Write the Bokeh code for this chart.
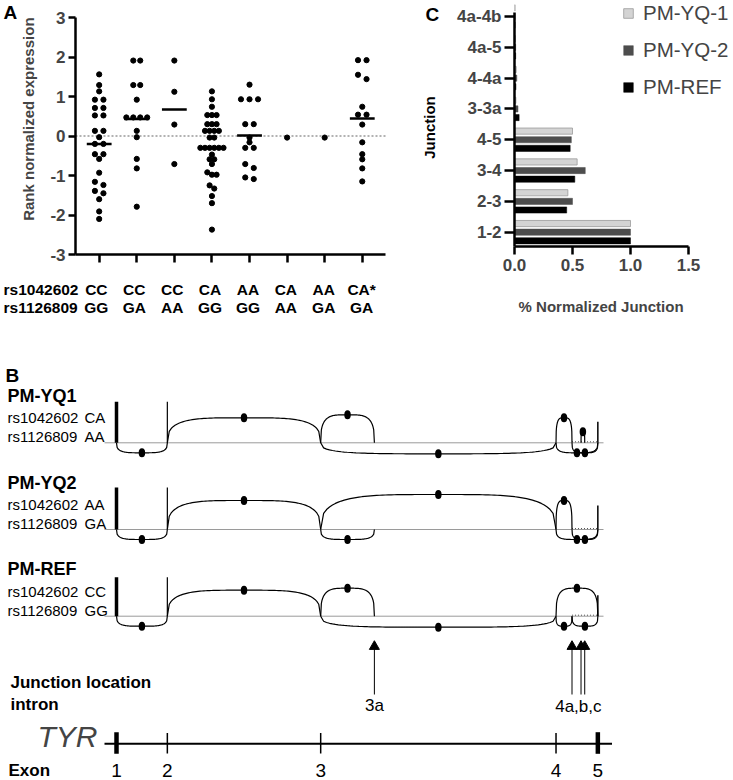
import numpy as np
from bokeh.plotting import figure
from bokeh.layouts import column, row
from bokeh.models import (Range1d, FixedTicker, Label, Legend, LegendItem,
                          NumeralTickFormatter, PrintfTickFormatter)
from bokeh.embed import file_html
from bokeh.resources import INLINE

FONT = "Liberation Sans"

# ---------------- Panel A data ----------------
snp_rs1 = "rs1042602"
snp_rs2 = "rs1126809"
geno_a1 = ["CC", "CC", "CC", "CA", "AA", "CA", "AA", "CA*"]
geno_a2 = ["GG", "GA", "AA", "GG", "GG", "AA", "GA", "GA"]
grp1 = [1.56, 1.29, 1.13, 0.92, 0.92, 0.71, 0.71, 0.52, 0.52, 0.13, 0.13, -0.03,
        -0.20, -0.20, -0.46, -0.46, -0.58, -0.93, -1.16, -1.24, -1.39, -1.45,
        -1.60, -1.91, -2.10]
grp2 = [1.91, 1.91, 1.29, 1.29, 0.92, 0.47, 0.47, 0.47, 0.47, 0.13, -0.03,
        -0.58, -0.82, -1.79]
grp3 = [1.91, 1.12, 0.29, -0.71]
grp4 = [1.13, 0.93, 0.74, 0.53, 0.53, 0.53, 0.30, 0.30, 0.30, 0.13, 0.13, 0.13,
        0.13, -0.04, -0.04, -0.30, -0.30, -0.30, -0.30, -0.30, -0.30, -0.47,
        -0.59, -0.59, -0.71, -0.92, -0.98, -0.98, -1.25, -1.33, -1.52, -1.70,
        -2.37]
grp5 = [1.30, 0.93, 0.93, 0.93, 0.30, 0.30, -0.04, -0.16, -0.30, -0.30, -0.71,
        -0.81, -1.05, -1.09]
grp6 = [-0.04]
grp7 = [-0.04]
grp8 = [1.92, 1.92, 1.55, 1.44, 0.74, 0.54, 0.54, 0.29, -0.16, -0.46, -0.59,
        -0.82, -1.15]
groups = [grp1, grp2, grp3, grp4, grp5, grp6, grp7, grp8]
medians = [-0.20, 0.43, 0.67, -0.30, 0.01, None, None, 0.44]
y_ticks_a = [-3, -2, -1, 0, 1, 2, 3]

# ---------------- Panel C data ----------------
junctions = ["1-2", "2-3", "3-4", "4-5", "3-3a", "4-4a", "4a-5", "4a-4b"]
pm_yq1 = [1.00, 0.46, 0.54, 0.50, 0.012, 0.015, 0.008, 0.005]
pm_yq2 = [1.00, 0.50, 0.61, 0.49, 0.030, 0.020, 0.010, 0.005]
pm_ref = [1.00, 0.45, 0.52, 0.48, 0.040, 0.012, 0.010, 0.005]
x_ticks_c = [0, 0.5, 1.0, 1.5]

# ---------------- Panel B data ----------------
exon_names = ["1", "2", "3", "4", "5"]
exon_kb = [0.0, 12.4, 49.8, 107.2, 117.4]
site_names = ["3a", "4a", "4b", "4c"]
site_kb = [62.9, 111.1, 113.3, 114.2]
samples = ["PM-YQ1", "PM-YQ2", "PM-REF"]
samp_g1 = ["CA", "AA", "CC"]
samp_g2 = ["AA", "GA", "GG"]
junc_yq1 = [("1", "2", -10), ("2", "3", 25), ("3", "3a", 28), ("3", "4", -11),
            ("4", "4a", 25), ("4", "5", -10), ("4a", "5", -10), ("4b", "4c", 11)]
junc_yq2 = [("1", "2", -10), ("2", "3", 29), ("3", "4", 35), ("3", "3a", -10),
            ("4", "4a", 29), ("4", "5", -10), ("4a", "5", -10)]
junc_ref = [("1", "2", -10), ("2", "3", 26), ("3", "3a", 28), ("3", "4", -11),
            ("4", "5", 28), ("4", "4a", -10), ("4a", "5", -10)]
sample_junctions = [junc_yq1, junc_yq2, junc_ref]
cov_exon12 = [41, 42, 39]
cov_exon5 = [21, 24, 21]
arrow_sites = ["3a", "4a", "4b", "4c"]


def lab(p, x, y, text, size, style="normal", align="left", angle=0.0):
    p.add_layout(Label(x=x, y=y, text=text, text_font=FONT, text_font_size=f"{size}px",
                       text_font_style=style, text_align=align, text_baseline="middle",
                       angle=angle, text_color="black"))


def blank(p):
    p.outline_line_color = None
    p.grid.visible = False
    return p


# =============== Panel A ===============
PXU = 313 / (8.63 - 0.37)          # px per group unit
YPX = 237 / 6.0                     # px per y unit (frame -3..3)
pA = blank(figure(width=423, height=275,
                  x_range=Range1d(0.37, 0.37 + 368 / PXU),
                  y_range=Range1d(-3, 3 + 17 / YPX),
                  output_backend="svg", toolbar_location=None,
                  min_border_left=55, min_border_right=0, min_border_top=0,
                  min_border_bottom=21))

xa = pA.xaxis[0]
xa.ticker = FixedTicker(ticks=list(range(1, 9)))
xa.bounds = (0.37, 8.63)
xa.major_label_text_color = None
xa.axis_line_width = 2.5
xa.major_tick_line_width = 2.5
xa.major_tick_out = 8
xa.major_tick_in = 0
xa.minor_tick_out = 0
xa.minor_tick_in = 0

ya = pA.yaxis[0]
ya.ticker = FixedTicker(ticks=y_ticks_a)
ya.formatter = PrintfTickFormatter(format="%d")
ya.bounds = (-3, 3)
ya.axis_line_width = 2.5
ya.major_tick_line_width = 2.5
ya.major_tick_out = 7
ya.major_tick_in = 0
ya.minor_tick_out = 0
ya.minor_tick_in = 0
ya.major_label_text_font = FONT
ya.major_label_text_font_style = "bold"
ya.major_label_text_font_size = "17px"
ya.major_label_standoff = 3
ya.axis_label = "\u00a0" * 4 + "Rank normalized expression"
ya.axis_label_text_font = FONT
ya.axis_label_text_font_style = "bold"
ya.axis_label_text_font_size = "15px"
ya.axis_label_standoff = 10

pA.segment(x0=[0.37], y0=[0], x1=[8.63], y1=[0], line_color="#999999",
           line_dash="2 2", line_width=1.5)


def swarm(vals, spacing):
    s = sorted(vals, reverse=True)
    rows = []
    for v in s:
        if rows and abs(rows[-1][0] - v) <= 0.115:
            rows[-1].append(v)
        else:
            rows.append([v])
    xs, ys = [], []
    for r in rows:
        n = len(r)
        for i, v in enumerate(r):
            xs.append((i - (n - 1) / 2) * spacing)
            ys.append(v)
    return xs, ys, max(len(r) for r in rows)


all_x, all_y = [], []
for gi, vals in enumerate(groups):
    _, _, m = swarm(vals, 1)
    sp = min(8.6, 28 / m) / PXU
    xs, ys, _ = swarm(vals, sp)
    all_x += [gi + 1 + x for x in xs]
    all_y += ys
pA.scatter(all_x, all_y, size=5.2, color="black")

mx0, mx1, my = [], [], []
for gi, m in enumerate(medians):
    if m is not None:
        mx0.append(gi + 1 - 0.33)
        mx1.append(gi + 1 + 0.33)
        my.append(m)
pA.segment(x0=mx0, y0=my, x1=mx1, y1=my, line_width=2.5, color="black")

# panel C letter and its y title live in the free space to the right of panel A
lab(pA, 0.37 + (425 - 72) / PXU, 3 + 3 / YPX, "C", 19, "bold")
lab(pA, 0.37 + (429 - 72) / PXU, 3 - (127 - 17) / YPX, "Junction", 15, "bold",
    "center", np.pi / 2)

# letter A
tagA = blank(figure(width=17, height=275, x_range=Range1d(0, 17), y_range=Range1d(275, 0),
                    x_axis_type=None, y_axis_type=None, output_backend="svg",
                    toolbar_location=None, min_border=0))
lab(tagA, 3, 13, "A", 19, "bold")

# genotype rows under panel A
pLab = blank(figure(width=440, height=45,
                    x_range=Range1d(0.37 - 72 / PXU, 0.37 + 368 / PXU),
                    y_range=Range1d(45, 0), x_axis_type=None, y_axis_type=None,
                    output_backend="svg", toolbar_location=None, min_border=0))
x_left = 0.37 - 69 / PXU
lab(pLab, x_left, 14, snp_rs1, 15.5, "bold")
lab(pLab, x_left, 32, snp_rs2, 15.5, "bold")
for i in range(8):
    lab(pLab, i + 1, 14, geno_a1[i], 15.5, "bold", "center")
    lab(pLab, i + 1, 32, geno_a2[i], 15.5, "bold", "center")

# =============== Panel C ===============
CXU = 174 / 1.5
CYU = 234 / (7.13 + 0.465)
pC = blank(figure(width=293, height=320, x_range=Range1d(0, 219 / CXU),
                  y_range=Range1d(-0.465, -0.465 + 246 / CYU),
                  output_backend="svg", toolbar_location=None,
                  min_border_left=74, min_border_right=0, min_border_top=0,
                  min_border_bottom=74))
ypos = np.arange(len(junctions))
r1 = pC.hbar(y=ypos + 0.28, right=pm_yq1, left=0, height=0.2, fill_color="#d4d4d4",
             line_color="#9a9a9a", line_width=0.8)
r2 = pC.hbar(y=ypos, right=pm_yq2, left=0, height=0.2, fill_color="#4d4d4d",
             line_color="#4d4d4d", line_width=0.5)
r3 = pC.hbar(y=ypos - 0.28, right=pm_ref, left=0, height=0.2, fill_color="black",
             line_color="black", line_width=0.5)

xc = pC.xaxis[0]
xc.ticker = FixedTicker(ticks=x_ticks_c)
xc.formatter = NumeralTickFormatter(format="0.0")
xc.bounds = (0, 1.5)
yc = pC.yaxis[0]
yc.ticker = FixedTicker(ticks=list(range(len(junctions))))
yc.major_label_overrides = {i: j for i, j in enumerate(junctions)}
yc.bounds = (-0.465, 7.13)
for ax in (xc, yc):
    ax.axis_line_width = 2.5
    ax.major_tick_line_width = 2.5
    ax.major_tick_in = 0
    ax.minor_tick_out = 0
    ax.minor_tick_in = 0
    ax.major_label_text_font = FONT
    ax.major_label_text_font_style = "bold"
    ax.major_label_text_font_size = "17px"
    ax.axis_label_text_font = FONT
    ax.axis_label_text_font_style = "bold"
    ax.axis_label_text_font_size = "15px"
xc.major_tick_out = 8
xc.major_label_standoff = 4
xc.axis_label = "% Normalized Junction" + "\u00a0" * 11
xc.axis_label_standoff = 24
yc.major_tick_out = 10
yc.major_label_standoff = 3

legend = Legend(items=[LegendItem(label="PM-YQ-1", renderers=[r1]),
                       LegendItem(label="PM-YQ-2", renderers=[r2]),
                       LegendItem(label="PM-REF", renderers=[r3])],
                location=(108, 147), padding=0, margin=0, spacing=13,
                glyph_width=12, glyph_height=12, label_standoff=9, label_height=22,
                label_text_font=FONT, label_text_font_size="20.5px",
                border_line_color=None, background_fill_alpha=0)
pC.add_layout(legend)

# =============== Panel B ===============
PXKB = 4.1      # px per kb
ORG = 116       # page x of exon 1


def kb(px):
    return (px - ORG) / PXKB


pB = blank(figure(width=733, height=460, x_range=Range1d(kb(0), kb(733)),
                  y_range=Range1d(460, 0), x_axis_type=None, y_axis_type=None,
                  output_backend="svg", toolbar_location=None, min_border=0))

pos = dict(zip(exon_names, exon_kb))
pos.update(dict(zip(site_names, site_kb)))
bases = [122.3, 209.0, 295.7]
tt = np.linspace(0, 1, 81)
shape = (1 - np.abs(2 * tt - 1) ** 4) ** (1 / 3)

for si, (name, junc) in enumerate(zip(samples, sample_junctions)):
    b = bases[si]
    pB.segment(x0=[kb(104)], y0=[b], x1=[kb(603)], y1=[b], line_color="#9a9a9a",
               line_width=1)
    pB.segment(x0=[pos["4a"]], y0=[b - 1], x1=[pos["5"]], y1=[b - 1], line_color="#555555",
               line_width=1, line_dash="1 2")
    pB.segment(x0=[pos["1"]], y0=[b], x1=[pos["1"]], y1=[b - cov_exon12[si]],
               line_color="black", line_width=3.5)
    pB.segment(x0=[pos["2"]], y0=[b], x1=[pos["2"]], y1=[b - cov_exon12[si]],
               line_color="black", line_width=1.2)
    pB.segment(x0=[pos["5"]], y0=[b], x1=[pos["5"]], y1=[b - cov_exon5[si]],
               line_color="black", line_width=1.5)
    xs_l, ys_l, dx, dy = [], [], [], []
    for a, c, h in junc:
        xa_, xc_ = pos[a], pos[c]
        xs_l.append(list(xa_ + (xc_ - xa_) * tt))
        ys_l.append(list(b - h * shape))
        dx.append((xa_ + xc_) / 2)
        dy.append(b - h)
    pB.multi_line(xs_l, ys_l, line_color="black", line_width=1.2)
    pB.ellipse(x=dx, y=dy, width=6.5, height=9, width_units="screen",
               height_units="screen", fill_color="black", line_color=None)
    lab(pB, kb(7), b - 47, name, 18, "bold")
    lab(pB, kb(7), b - 25, snp_rs1, 15)
    lab(pB, kb(84), b - 25, samp_g1[si], 15)
    lab(pB, kb(7), b - 6, snp_rs2, 15)
    lab(pB, kb(84), b - 6, samp_g2[si], 15)

lab(pB, kb(5), 55, "B", 19, "bold")

ax_ = [pos[s] for s in arrow_sites]
pB.segment(x0=ax_, y0=[327] * len(ax_), x1=ax_, y1=[374] * len(ax_), line_color="black",
           line_width=1)
pB.scatter(ax_, [326] * len(ax_), marker="triangle", size=10, color="black")
lab(pB, kb(10), 362, "Junction location", 17, "bold")
lab(pB, kb(10), 384, "intron", 17, "bold")
lab(pB, pos["3a"], 385, "3a", 17, "normal", "center")
lab(pB, (pos["4a"] + pos["4c"]) / 2, 386, "4a,b,c", 17, "normal", "center")

pB.segment(x0=[kb(104)], y0=[423.3], x1=[kb(611.5)], y1=[423.3], line_color="black",
           line_width=2)
thick = [pos["1"], pos["5"]]
thin = [pos["2"], pos["3"], pos["4"]]
pB.segment(x0=thick, y0=[411.7] * 2, x1=thick, y1=[433.3] * 2, line_color="black",
           line_width=4.5)
pB.segment(x0=thin, y0=[412.5] * 3, x1=thin, y1=[433] * 3, line_color="black",
           line_width=1.5)
pB.add_layout(Label(x=kb(97), y=416, text="TYR", text_font=FONT, text_font_size="30px",
                    text_font_style="italic", text_align="right", text_baseline="middle"))
lab(pB, kb(8), 450, "Exon", 17, "bold")
for n, e in zip(exon_names, exon_kb):
    lab(pB, e, 450, n, 19, "normal", "center")

layout = column(row(column(row(tagA, pA), pLab), pC), pB)
open("out.html", "w").write(file_html(layout, INLINE))
